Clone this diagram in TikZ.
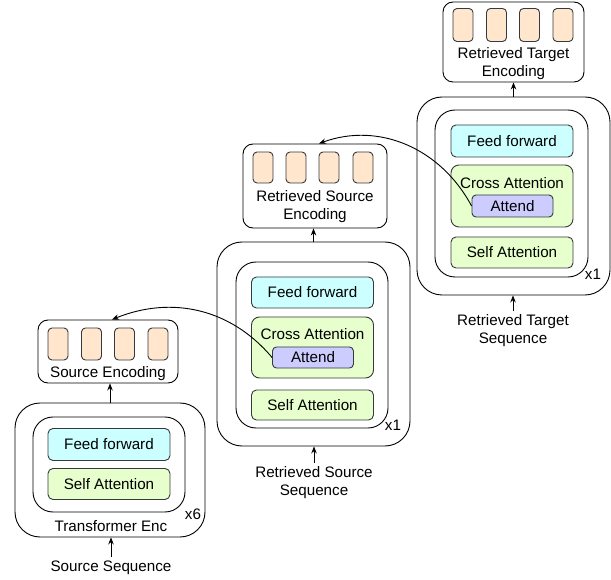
\documentclass[tikz,border=0pt]{standalone}
\usepackage{fontspec}
\setmainfont{Liberation Sans}
\usetikzlibrary{arrows.meta}
\definecolor{ffcol}{HTML}{CCFFFF}
\definecolor{attcol}{HTML}{E6FFCC}
\definecolor{attendcol}{HTML}{CCCCFF}
\definecolor{cellcol}{HTML}{FFE6CC}
\definecolor{edgecol}{HTML}{36393D}

\begin{document}
\begin{tikzpicture}[x=1pt,y=-1pt,line width=0.9pt,>={Stealth[length=7pt,width=5.5pt]},
	font=\fontsize{15.2}{18}\selectfont]
	\useasboundingbox (0,0) rectangle (611,580);
	\def \colone{109}
	\def \coltwo{312.5}
	\def \colthree{512}
	\tikzstyle{o-node}=[draw,rounded corners=25pt,inner sep=0pt,minimum width=193pt]
	\tikzstyle{i-node}=[draw,rounded corners=20pt,inner sep=0pt,minimum width=152pt]
	\tikzstyle{e-node}=[draw,rounded corners=10pt,inner sep=0pt]
	\tikzstyle{v-node}=[draw=edgecol,fill=cellcol,rounded corners=4pt,inner sep=0pt,minimum width=20pt,minimum height=32pt]
	\tikzstyle{f-node}=[draw=edgecol,fill=ffcol,rounded corners=5pt,inner sep=0pt,minimum width=122pt,minimum height=32pt]
	\tikzstyle{a-node}=[draw=edgecol,fill=attcol,rounded corners=5pt,inner sep=0pt,minimum width=122pt,minimum height=31pt]
	\tikzstyle{c-node}=[draw=edgecol,fill=attcol,rounded corners=8pt,inner sep=0pt,minimum width=122pt,minimum height=61pt]
	\tikzstyle{t-node}=[draw=edgecol,fill=attendcol,rounded corners=4pt,inner sep=0pt,minimum width=81pt,minimum height=21pt]
	\tikzstyle{annot}=[align=center,yshift=-2pt]

	% source encoder
	\node[o-node,minimum width=190pt,minimum height=134pt] (outer1) at (110,470) {};
	\node[i-node,minimum height=95pt] (inner1) at (\colone,464.5) {};
	\node[f-node] (ff1) at (\colone,444.5) {Feed forward};
	\node[a-node] (sa1) at (\colone,484) {Self Attention};
	\node[annot] (tlab1) at (111,524) {Transformer Enc};
	\node[annot] (rep1) at (193,512) {x6};
	\node[annot] (seq1) at (111,566) {Source Sequence};

	% source encoding
	\node[e-node,minimum width=140pt,minimum height=63pt] (enc1) at (108,351.5) {};
	\node[v-node] (c10) at (58,344) {};
	\node[v-node] (c11) at (91.5,344) {};
	\node[v-node] (c12) at (124.5,344) {};
	\node[v-node] (c13) at (158,344) {};
	\node[annot] (enclab1) at (108,372) {Source Encoding};

	% retrieved source encoder
	\node[o-node,minimum height=204pt] (outer2) at (313.5,344) {};
	\node[i-node,minimum height=166pt] (inner2) at (312,345) {};
	\node[f-node,minimum height=31pt] (ff2) at (\coltwo,292.5) {Feed forward};
	\node[c-node] (ca2) at (\coltwo,347.5) {};
	\node[annot] (calab2) at (\coltwo,332) {Cross Attention};
	\node[t-node] (at2) at (313,357.5) {Attend};
	\node[a-node,minimum height=30pt] (sa2) at (\coltwo,405) {Self Attention};
	\node[annot] (rep2) at (393,423) {x1};
	\node[annot] (seq2) at (314,481) {Retrieved Source\\Sequence};

	% retrieved source encoding
	\node[e-node,minimum width=144pt,minimum height=84pt] (enc2) at (315,186) {};
	\node[v-node,minimum height=31pt] (c20) at (263,167.5) {};
	\node[v-node,minimum height=31pt] (c21) at (296,167.5) {};
	\node[v-node,minimum height=31pt] (c22) at (329,167.5) {};
	\node[v-node,minimum height=31pt] (c23) at (363,167.5) {};
	\node[annot] (enclab2) at (315,205) {Retrieved Source\\Encoding};

	% retrieved target encoder
	\node[o-node,minimum height=198pt] (outer3) at (513.5,196) {};
	\node[i-node,minimum width=153pt,minimum height=167pt] (inner3) at (511.5,193.5) {};
	\node[f-node] (ff3) at (\colthree,141) {Feed forward};
	\node[c-node,minimum height=62pt] (ca3) at (\colthree,196) {};
	\node[annot] (calab3) at (\colthree,181) {Cross Attention};
	\node[t-node,minimum height=22pt] (at3) at (512.5,206) {Attend};
	\node[a-node] (sa3) at (\colthree,252.5) {Self Attention};
	\node[annot] (rep3) at (593,272) {x1};
	\node[annot] (seq3) at (513,329) {Retrieved Target\\Sequence};

	% retrieved target encoding
	\node[e-node,minimum width=141pt,minimum height=80pt] (enc3) at (513.5,42) {};
	\node[v-node,minimum height=33pt] (c30) at (463,25) {};
	\node[v-node,minimum height=33pt] (c31) at (496.5,25) {};
	\node[v-node,minimum height=33pt] (c32) at (529.5,25) {};
	\node[v-node,minimum height=33pt] (c33) at (563,25) {};
	\node[annot] (enclab3) at (513.5,62) {Retrieved Target\\Encoding};

	\path[->]
		(seq1.north)	edge	(seq1.north |- outer1.south)
		(outer1.north)	edge	(outer1.north |- enc1.south)
		%
		(seq2.north)	edge	(seq2.north |- outer2.south)
		(outer2.north)	edge	(outer2.north |- enc2.south)
		%
		(seq3.north)	edge	(seq3.north |- outer3.south)
		(outer3.north)	edge	(outer3.north |- enc3.south)
		%
		(at2.west)	edge[out=130,in=22]	([xshift=4pt]enc1.north)
		(at3.west)	edge[out=118,in=20]	([xshift=4pt]enc2.north);
\end{tikzpicture}
\end{document}
